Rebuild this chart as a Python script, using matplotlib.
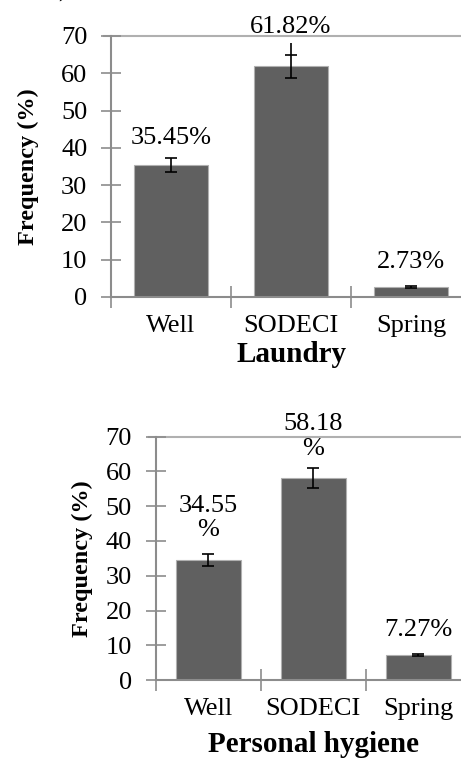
import matplotlib.pyplot as plt

plt.rcParams['font.family'] = ['Liberation Serif', 'DejaVu Serif']

# data
sources = ["Well", "SODECI", "Spring"]

laundry_vals = [35.45, 61.82, 2.73]
laundry_err = [1.8, 3.2, 0.25]
laundry_labels = ["35.45%", "61.82%", "2.73%"]
laundry_label_y = [42.7, 72.4, 9.5]

hygiene_vals = [34.55, 58.18, 7.27]
hygiene_err = [1.7, 2.9, 0.35]
hygiene_labels = ["34.55\n%", "58.18\n%", "7.27%"]
hygiene_label_y = [46.6, 70.0, 14.5]

BAR = "#606060"
AXC = "#8c8c8c"
FS = 19


def draw(ax, vals, err, labels, label_y, xlabel, xlabel_pad, ylabel_pad):
    x = list(range(len(sources)))
    ax.bar(x, vals, width=0.62, color=BAR, edgecolor="#b0b0b0", linewidth=0.8, zorder=2)
    ax.errorbar(x, vals, yerr=err, fmt='none', ecolor='black', elinewidth=1.2,
                capsize=4.5, capthick=1.2, zorder=3)
    for xi, lab, ly in zip(x, labels, label_y):
        ax.text(xi, ly, lab, ha='center', va='center', fontsize=FS, linespacing=1.15)
    ax.set_xlim(-0.5, 2.5)
    ax.set_ylim(0, 70)
    ax.set_yticks(range(0, 71, 10))
    ax.set_xticks([-0.5, 0.5, 1.5, 2.5])
    ax.set_xticklabels([])
    ax.set_xticks(x, minor=True)
    ax.set_xticklabels(sources, minor=True, fontsize=FS)
    ax.tick_params(axis='x', which='minor', length=0, pad=13)
    ax.tick_params(axis='x', which='major', direction='inout', length=16, color=AXC, width=1.2)
    ax.tick_params(axis='y', direction='inout', length=14, color=AXC, width=1.2,
                   labelsize=FS, pad=10)
    for s in ['top', 'right']:
        ax.spines[s].set_visible(False)
    for s in ['left', 'bottom']:
        ax.spines[s].set_color(AXC)
        ax.spines[s].set_linewidth(1.5)
    ax.axhline(70, xmin=-0.02, color="#b0b0b0", lw=1.5, zorder=1, clip_on=False)
    ax.set_ylabel("Frequency (%)", fontsize=17.5, fontweight='bold', labelpad=ylabel_pad)
    ax.set_xlabel(xlabel, fontsize=21, fontweight='bold', labelpad=xlabel_pad)


fig = plt.figure(figsize=(4.61, 7.64), dpi=100)
ax1 = fig.add_axes([0.2408, 0.6113, 0.7809, 0.3416])
ax2 = fig.add_axes([0.3377, 0.1099, 0.6840, 0.3185])

draw(ax1, laundry_vals, laundry_err, laundry_labels, laundry_label_y, "Laundry", 3, 16)
# extra upper whisker on the SODECI laundry bar
ax1.vlines(1, laundry_vals[1] + laundry_err[1], 68.2, color='black', lw=1.2, zorder=3)

draw(ax2, hygiene_vals, hygiene_err, hygiene_labels, hygiene_label_y, "Personal hygiene", 8, 9)

fig.text(0.135, 1.012, ")", fontsize=FS, va='center', ha='center')

fig.savefig("out.png", dpi=100)
